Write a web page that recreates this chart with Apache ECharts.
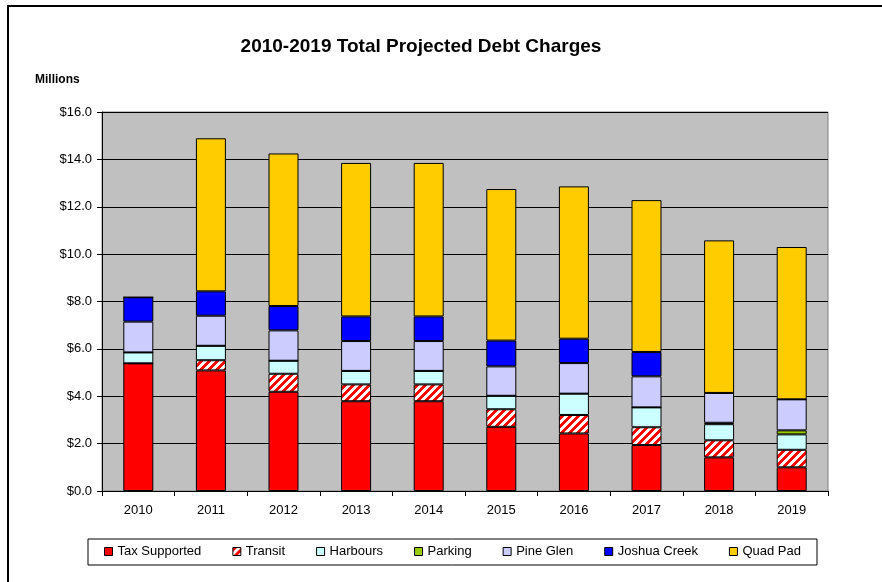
<!DOCTYPE html>
<html>
<head>
<meta charset="utf-8">
<script src="https://cdn.jsdelivr.net/npm/echarts@6/dist/echarts.min.js"></script>
<style>
  html, body { margin: 0; padding: 0; background: #fff; }
  #main { width: 882px; height: 582px; }
</style>
</head>
<body>
<div id="main"></div>
<script>
// 数据
var years = ['2010', '2011', '2012', '2013', '2014', '2015', '2016', '2017', '2018', '2019'];
var taxSupported = [5.39, 5.09, 4.19, 3.79, 3.79, 2.71, 2.43, 1.94, 1.42, 1.00];
var transit      = [0,    0.43, 0.76, 0.71, 0.71, 0.74, 0.78, 0.75, 0.72, 0.74];
var harbours     = [0.46, 0.61, 0.55, 0.57, 0.57, 0.57, 0.90, 0.84, 0.68, 0.65];
var parking      = [0,    0,    0,    0,    0,    0,    0,    0,    0.06, 0.17];
var pineGlen     = [1.30, 1.27, 1.28, 1.26, 1.26, 1.24, 1.29, 1.31, 1.26, 1.31];
var joshuaCreek  = [1.03, 1.03, 1.03, 1.04, 1.04, 1.09, 1.03, 1.03, 0,    0];
var quadPad      = [0,    6.46, 6.44, 6.48, 6.48, 6.40, 6.43, 6.41, 6.44, 6.43];
var yTicks = [0, 2, 4, 6, 8, 10, 12, 14, 16];

// 红白斜纹 (左下到右上)
var stripe = document.createElement('canvas');
stripe.width = 8;
stripe.height = 8;
var ctx = stripe.getContext('2d');
for (var x = 0; x < 8; x++) {
    for (var y = 0; y < 8; y++) {
        ctx.fillStyle = ((x + y) % 8 < 4) ? '#ff0000' : '#ffffff';
        ctx.fillRect(x, y, 1, 1);
    }
}

var myChart = echarts.init(document.getElementById('main'));

function bar(name, data, color) {
    return {
        name: name,
        type: 'bar',
        stack: 'total',
        barWidth: 30,
        data: data,
        itemStyle: { color: color, borderColor: '#000', borderWidth: 1 }
    };
}

var option = {
    backgroundColor: '#fff',
    animation: false,
    textStyle: { fontFamily: 'Liberation Sans, Arial, sans-serif' },
    graphic: [
        { type: 'rect', shape: { x: 8, y: 6, width: 900, height: 620 },
          style: { fill: 'none', stroke: '#000', lineWidth: 2 } },
        { type: 'text', x: 421, y: 47,
          style: { text: '2010-2019 Total Projected Debt Charges', fill: '#000',
                   font: 'bold 19px "Liberation Sans", Arial, sans-serif',
                   textAlign: 'center', textVerticalAlign: 'middle' } },
        { type: 'text', x: 35, y: 80,
          style: { text: 'Millions', fill: '#000',
                   font: 'bold 12px "Liberation Sans", Arial, sans-serif',
                   textVerticalAlign: 'middle' } },
        { type: 'rect', shape: { x: 88, y: 539, width: 729, height: 26 },
          style: { fill: 'none', stroke: '#000', lineWidth: 1 } }
    ],
    legend: {
        left: 104,
        top: 545,
        padding: 0,
        itemWidth: 8,
        itemHeight: 8,
        itemGap: 31,
        icon: 'rect',
        itemStyle: { borderColor: '#000', borderWidth: 1 },
        textStyle: { fontSize: 13, color: '#000' },
        data: ['Tax Supported', 'Transit', 'Harbours', 'Parking', 'Pine Glen', 'Joshua Creek', 'Quad Pad']
    },
    grid: {
        left: 102, top: 112, width: 726, height: 379,
        show: true, backgroundColor: '#c0c0c0', borderColor: '#808080', borderWidth: 1
    },
    xAxis: {
        type: 'category',
        data: years,
        axisLine: { lineStyle: { color: '#000', width: 1 } },
        axisTick: { show: true, length: 5, lineStyle: { color: '#000' } },
        axisLabel: { fontSize: 13, color: '#000', margin: 13 }
    },
    yAxis: {
        type: 'value',
        min: yTicks[0],
        max: yTicks[yTicks.length - 1],
        interval: 2,
        axisLine: { show: true, lineStyle: { color: '#000', width: 1 } },
        axisTick: { show: true, length: 5, lineStyle: { color: '#000' } },
        splitLine: { lineStyle: { color: '#000', width: 1 } },
        axisLabel: {
            fontSize: 13, color: '#000', margin: 10,
            formatter: function (v) { return '$' + v.toFixed(1); }
        }
    },
    series: [
        bar('Tax Supported', taxSupported, '#ff0000'),
        bar('Transit', transit, { image: stripe, repeat: 'repeat' }),
        bar('Harbours', harbours, '#ccffff'),
        bar('Parking', parking, '#99cc00'),
        bar('Pine Glen', pineGlen, '#ccccff'),
        bar('Joshua Creek', joshuaCreek, '#0000ff'),
        bar('Quad Pad', quadPad, '#ffcc00')
    ]
};

myChart.setOption(option);
</script>
</body>
</html>
